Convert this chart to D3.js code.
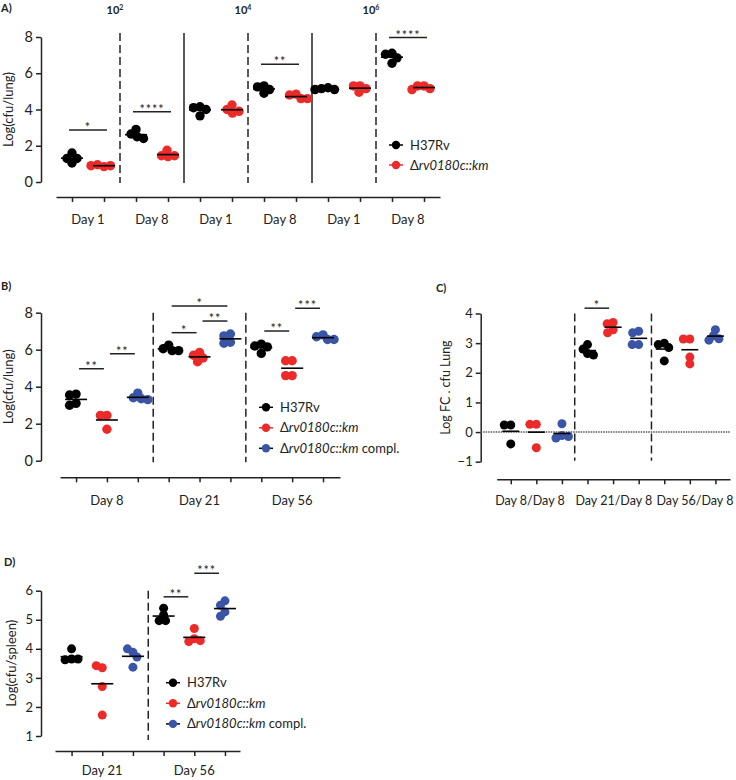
<!DOCTYPE html>
<html><head><meta charset="utf-8">
<script src="https://cdn.jsdelivr.net/npm/d3@7"></script>
<style>body{margin:0;background:#fff} text{font-family:Lato,"Open Sans",sans-serif;fill:#222}</style>
</head><body><svg id="c" width="736" height="780"></svg>
<script>
const COLORS = ["#000000", "#ec2a2a", "#3b55a6"];
const seriesNames = ["H37Rv", "rv0180c::km", "rv0180c::km compl."];

// ---------- Panel A ----------
const aTickLabels = ["Day 1", "Day 8", "Day 1", "Day 8", "Day 1", "Day 8"];
const aInoculum = [["10", "2"], ["10", "4"], ["10", "6"]];
const aSeparators = ["dashed", "solid", "dashed", "solid", "dashed"];
const aYTicks = [0, 2, 4, 6, 8];
const aH37Rv = [[1.6, 1.05, 1.3, 1.3], [2.9, 2.65, 2.5, 2.4], [4.15, 4.1, 4.0, 3.65], [5.3, 5.25, 5.1, 4.9], [5.2, 5.15, 5.1, 5.1], [7.1, 7.05, 6.85, 6.55]];
const aMutant = [[0.85, 0.95, 0.9, 0.9], [1.4, 1.45, 1.45, 1.75], [4.25, 4.0, 3.8, 3.9], [4.85, 4.8, 4.6, 4.6], [5.3, 5.3, 5.15, 4.95], [5.3, 5.3, 5.15, 5.1]];
// [group, seriesA, seriesB, level, label]
const aSig = [[0, 0, 1, 2.87, "*"], [1, 0, 1, 3.88, "****"], [3, 0, 1, 6.5, "**"], [5, 0, 1, 7.97, "****"]];

// ---------- Panel B ----------
const bTickLabels = ["Day 8", "Day 21", "Day 56"];
const bYTicks = [0, 2, 4, 6, 8];
const bH37Rv = [[3.6, 3.55, 3.1, 3.0], [6.25, 6.05, 5.95, 5.95], [6.3, 6.2, 6.15, 5.8]];
const bMutant = [[2.45, 2.45, 1.7], [5.85, 5.7, 5.55, 5.35], [5.4, 5.4, 4.6, 4.6]];
const bCompl = [[3.65, 3.4, 3.35, 3.3], [6.85, 6.75, 6.4, 6.35], [6.8, 6.7, 6.55, 6.55]];
const bSig = [[0, 0, 1, 4.97, "**"], [0, 1, 2, 5.78, "**"], [1, 0, 1, 6.92, "*"], [1, 1, 2, 7.55, "**"], [1, 0, 2, 8.36, "*"], [2, 0, 1, 7.01, "**"], [2, 1, 2, 8.24, "***"]];

// ---------- Panel C ----------
const cTickLabels = ["Day 8/Day 8", "Day 21/Day 8", "Day 56/Day 8"];
const cLabelSlots = [0.75, 4.03, 7.2];
const cYTicks = [-1, 0, 1, 2, 3, 4];
const cH37Rv = [[0.24, 0.24, -0.4], [2.95, 2.8, 2.65, 2.6], [3.0, 2.95, 2.85, 2.4]];
const cMutant = [[0.26, 0.26, -0.53], [3.7, 3.65, 3.45, 3.35], [3.14, 3.14, 2.53, 2.3]];
const cCompl = [[0.28, -0.12, -0.15, -0.2], [3.4, 3.35, 2.95, 2.95], [3.45, 3.25, 3.15, 3.1]];
const cSig = [[1, 0, 1, 4.18, "*"]];

// ---------- Panel D ----------
const dTickLabels = ["Day 21", "Day 56"];
const dYTicks = [1, 2, 3, 4, 5, 6];
const dH37Rv = [[4.0, 3.65, 3.65, 3.62], [5.4, 5.17, 4.97, 4.97]];
const dMutant = [[3.35, 3.42, 2.7, 1.72], [4.7, 4.35, 4.28, 4.25]];
const dCompl = [[3.88, 4.0, 3.72, 3.37], [5.65, 5.5, 5.27, 5.12]];
const dSig = [[1, 0, 1, 5.79, "**"], [1, 1, 2, 6.6, "***"]];

const svg = d3.select("#c");

function swarm(vals, y, r) {
  const placed = [], off = new Array(vals.length);
  const minD = 2 * r * 0.68;
  vals.forEach((v, i) => {
    const yy = y(v);
    for (let k = 0; k < 200; k++) {
      const cands = k === 0 ? [0] : (placed.length % 2 ? [-k * 0.5, k * 0.5] : [k * 0.5, -k * 0.5]);
      let found = null;
      for (const c of cands) {
        if (placed.every(p => (p[0] - c) ** 2 + (p[1] - yy) ** 2 >= minD * minD)) { found = c; break; }
      }
      if (found !== null) { off[i] = found; placed.push([found, yy]); break; }
    }
  });
  return off;
}

function seriesLabel(sel, name) {
  if (name === "H37Rv") { sel.text(name); return; }
  sel.append("tspan").text("\u0394");
  const parts = name.split(" ");
  sel.append("tspan").attr("font-style", "italic").text(parts[0]);
  if (parts[1]) sel.append("tspan").text(" " + parts[1]);
}

function drawPanel(p) {
  const g = svg.append("g");
  const x = d3.scaleLinear().domain(p.xDomain).range(p.xRange);
  const y = d3.scaleLinear().domain(p.yDomain).range(p.yRange);
  const nSer = p.series.length, nGrp = p.series[0].length;

  g.append("text").attr("x", p.title[1]).attr("y", p.title[2]).attr("font-weight", "bold").attr("font-size", 11).text(p.title[0]);

  const ya = g.append("g").attr("transform", `translate(${x(p.xDomain[0]) - p.yAxisGap},0)`)
    .call(d3.axisLeft(y).tickValues(p.yTicks).tickSize(5).tickSizeOuter(0).tickPadding(3).tickFormat(d3.format("d")));
  ya.selectAll("path,line").attr("stroke", "#222").attr("stroke-width", 1.5);
  ya.selectAll("text").attr("font-size", p.yFont).attr("font-family", "Lato").attr("fill", "#222");

  const xa = g.append("g").attr("transform", `translate(0,${p.xAxisY})`)
    .call(d3.axisBottom(x).tickValues(d3.range(nSer * nGrp)).tickSize(5).tickSizeOuter(0).tickFormat(""));
  xa.selectAll("path,line").attr("stroke", "#222").attr("stroke-width", 1.5);

  p.labels.forEach((l, i) => {
    g.append("text").attr("x", x(p.labelSlots[i])).attr("y", p.xAxisY + p.labelDy).attr("text-anchor", "middle").attr("font-size", p.xFont).text(l);
  });

  const axisX = x(p.xDomain[0]) - p.yAxisGap;
  g.append("text").attr("transform", `translate(${p.yLabelX},${(p.yRange[0] + p.yRange[1]) / 2}) rotate(-90)`)
    .attr("text-anchor", "middle").attr("font-size", p.yLabelFont).text(p.yLabel);

  if (p.zeroLine) {
    g.append("line").attr("x1", axisX).attr("x2", p.xRange[1]).attr("y1", y(0)).attr("y2", y(0))
      .attr("stroke", "#555").attr("stroke-width", 1.5).attr("stroke-dasharray", "1.5,1");
  }

  p.separators.forEach((s, i) => {
    const sx = x((i + 1) * p.sepEvery - 0.5);
    g.append("line").attr("x1", sx).attr("x2", sx).attr("y1", p.yRange[1] - p.sepExt[0]).attr("y2", p.yRange[0] + p.sepExt[1])
      .attr("stroke", "#222").attr("stroke-width", 1.5).attr("stroke-dasharray", s === "dashed" ? "8,4" : null);
  });

  const slot = (gi, si) => gi * nSer + si;
  for (let gi = 0; gi < nGrp; gi++) {
    for (let si = 0; si < nSer; si++) {
      const vals = p.series[si][gi];
      const cx = x(slot(gi, si));
      const off = swarm(vals, y, p.r);
      g.selectAll(null).data(vals).enter().append("circle")
        .attr("cx", (d, i) => cx + off[i]).attr("cy", d => y(d)).attr("r", p.r).attr("fill", COLORS[si]);
      const m = d3.mean(vals);
      g.append("line").attr("x1", cx - p.meanHalf).attr("x2", cx + p.meanHalf).attr("y1", y(m)).attr("y2", y(m))
        .attr("stroke", "#000").attr("stroke-width", 1.6);
    }
  }
  p.sig.forEach(([gi, a, b, lvl, lab]) => {
    const x1 = x(slot(gi, a)) + p.sigPad[0], x2 = x(slot(gi, b)) + p.sigPad[1];
    g.append("line").attr("x1", x1).attr("x2", x2).attr("y1", y(lvl)).attr("y2", y(lvl)).attr("stroke", "#222").attr("stroke-width", 1.5);
    g.append("text").attr("x", (x1 + x2) / 2).attr("y", y(lvl) + 2).attr("text-anchor", "middle")
      .attr("font-size", 12.5).attr("letter-spacing", 1).attr("fill", "#444").text(lab);
  });
  if (p.topLabels) {
    p.topLabels.forEach((t, i) => {
      const tx = x(i * 4 + 1.5) - 5;
      const tt = g.append("text").attr("x", tx).attr("y", 14).attr("text-anchor", "middle").attr("font-weight", "bold").attr("font-size", 11);
      tt.append("tspan").text(t[0]);
      tt.append("tspan").attr("dy", -4).attr("font-size", 7).text(t[1]);
    });
  }
  if (p.legend) {
    p.series.forEach((s, si) => {
      const ly = p.legend[1] + si * p.legend[2];
      const lx = p.legend[0];
      g.append("line").attr("x1", lx - 7).attr("x2", lx + 7).attr("y1", ly).attr("y2", ly).attr("stroke", si === 1 ? COLORS[1] : "#000").attr("stroke-width", 1.5);
      g.append("circle").attr("cx", lx).attr("cy", ly).attr("r", 4.2).attr("fill", COLORS[si]);
      const t = g.append("text").attr("x", lx + 14).attr("y", ly + 4.5).attr("font-size", 13);
      seriesLabel(t, seriesNames[si]);
    });
  }
}

drawPanel({
  title: ["A)", 1, 12],
  series: [aH37Rv, aMutant], xDomain: [-0.5, 11.5], xRange: [56, 440], yDomain: [0, 8], yRange: [182, 37],
  yAxisGap: 15, yTicks: aYTicks, yFont: 14.5, xAxisY: 197, labels: aTickLabels, labelSlots: [0.5, 2.5, 4.5, 6.5, 8.5, 10.5],
  labelDy: 27, xFont: 13, yLabel: "Log(cfu/lung)", yLabelX: 13, yLabelFont: 13,
  separators: aSeparators, sepEvery: 2, sepExt: [4, 1], r: 4.7, meanHalf: 11, sig: aSig, sigPad: [-3, 3],
  topLabels: aInoculum, legend: [396, 145, 20]
});
drawPanel({
  title: ["B)", 1, 290],
  series: [bH37Rv, bMutant, bCompl], xDomain: [-0.52, 8.55], xRange: [60, 340], yDomain: [0, 8], yRange: [460.7, 312.7],
  yAxisGap: 19, yTicks: bYTicks, yFont: 14.5, xAxisY: 477.3, labels: bTickLabels, labelSlots: [1, 4, 7],
  labelDy: 27.5, xFont: 13, yLabel: "Log(cfu/lung)", yLabelX: 13, yLabelFont: 13,
  separators: ["dashed", "dashed"], sepEvery: 3, sepExt: [0, 1.5], r: 4.7, meanHalf: 11, sig: bSig, sigPad: [3, -3],
  legend: [266, 407.3, 20.5]
});
drawPanel({
  title: ["C)", 436, 291.5],
  series: [cH37Rv, cMutant, cCompl], xDomain: [-0.55, 8.57], xRange: [496.7, 730], yDomain: [-1, 4], yRange: [461.7, 313.5],
  yAxisGap: 16, yTicks: cYTicks, yFont: 13, xAxisY: 479.3, labels: cTickLabels, labelSlots: cLabelSlots,
  labelDy: 26, xFont: 12.5, yLabel: "Log FC . cfu Lung", yLabelX: 450, yLabelFont: 12.5, zeroLine: true,
  separators: ["dashed", "dashed"], sepEvery: 3, sepExt: [0, -1], r: 4.5, meanHalf: 8.5, sig: cSig, sigPad: [-3, -4]
});
drawPanel({
  title: ["D)", 4, 566],
  series: [dH37Rv, dMutant, dCompl], xDomain: [-0.54, 5.49], xRange: [55, 240], yDomain: [1, 6], yRange: [736, 590.7],
  yAxisGap: 14, yTicks: dYTicks, yFont: 13, xAxisY: 751, labels: dTickLabels, labelSlots: [1, 4],
  labelDy: 24, xFont: 13, yLabel: "Log(cfu/spleen)", yLabelX: 16, yLabelFont: 13,
  separators: ["dashed"], sepEvery: 3, sepExt: [0, 4], r: 4.5, meanHalf: 11, sig: dSig, sigPad: [0, -6],
  legend: [173, 682.7, 20.6]
});
</script></body></html>
